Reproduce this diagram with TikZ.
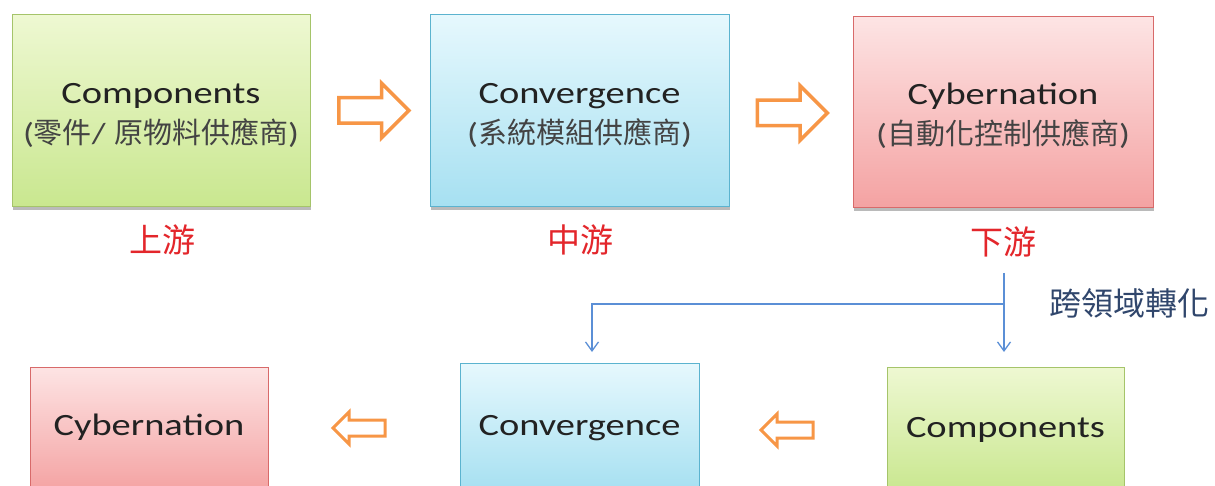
\documentclass[tikz,border=0pt]{standalone}
\usepackage{fontspec}
\setmainfont{Carlito}[FakeStretch=1.24]
\newfontfamily\cjk{Noto Sans CJK TC}
\usetikzlibrary{shapes.arrows,shadows,arrows.meta}
\definecolor{gtop}{HTML}{EEF8D2}
\definecolor{gbot}{HTML}{C9E78F}
\definecolor{gline}{HTML}{A5C46A}
\definecolor{btop}{HTML}{E6F8FD}
\definecolor{bbot}{HTML}{A6E0F1}
\definecolor{bline}{HTML}{5BB3CF}
\definecolor{rtop}{HTML}{FDE4E4}
\definecolor{rbot}{HTML}{F4A2A2}
\definecolor{rline}{HTML}{D86A6A}
\definecolor{orangearr}{HTML}{F79646}
\definecolor{redlabel}{HTML}{E3262B}
\definecolor{bluelink}{HTML}{5B8FD6}
\definecolor{bluetext}{HTML}{30466C}
\definecolor{boxtext}{HTML}{222222}
\begin{document}
\begin{tikzpicture}[x=1pt,y=-1pt,
  boxbase/.style={rectangle, line width=1pt, inner sep=0pt,
    drop shadow={shadow xshift=1pt, shadow yshift=-3pt, fill=black!60, opacity=0.45}},
  gbox/.style={boxbase, draw=gline, top color=gtop, bottom color=gbot},
  bbox/.style={boxbase, draw=bline, top color=btop, bottom color=bbot},
  rbox/.style={boxbase, draw=rline, top color=rtop, bottom color=rbot},
  maintext/.style={inner sep=0pt, text=boxtext, font=\fontsize{31}{31}\selectfont},
  subtext/.style={inner sep=0pt, text=boxtext!85, font=\fontsize{29}{29}\selectfont},
  stagelabel/.style={inner sep=0pt, text=redlabel, font=\cjk\fontsize{33}{33}\selectfont},
  bigarrow/.style={single arrow, draw=orangearr, fill=white, line width=3.5pt,
    inner sep=0pt, inner ysep=11pt, single arrow head extend=14.5pt, minimum height=70pt},
  smallarrow/.style={single arrow, draw=orangearr, fill=white, line width=3pt,
    inner sep=0pt, inner ysep=6.5pt, single arrow head extend=8pt, minimum height=52pt,
    shape border rotate=180},
  link/.style={draw=bluelink, line width=1.3pt},
  linkarrow/.style={link, -{Straight Barb[length=9pt,width=13pt,line width=1.3pt]}}
]
\useasboundingbox (0,0) rectangle (1215,486);
\clip (0,0) rectangle (1215,486);

% top row boxes
\node[gbox, minimum width=298pt, minimum height=192pt] (b1) at (161,111) {};
\node[bbox, minimum width=299pt, minimum height=192pt] (b2) at (579.5,111) {};
\node[rbox, minimum width=300pt, minimum height=191pt] (b3) at (1003,112.5) {};

\node[maintext, anchor=base] (b1a) at (161,104) {Components};
\node[subtext, anchor=base] (b1b) at (161,144) {({\cjk 零件}/ {\cjk 原物料供應商})};
\node[maintext, anchor=base] (b2a) at (579.5,104) {Convergence};
\node[subtext, anchor=base] (b2b) at (579.5,144) {({\cjk 系統模組供應商})};
\node[maintext, anchor=base] (b3a) at (1003,105) {Cybernation};
\node[subtext, anchor=base] (b3b) at (1003,145) {({\cjk 自動化控制供應商})};

% stage labels
\node[stagelabel] (up) at (162,240) {上游};
\node[stagelabel] (mid) at (580,240) {中游};
\node[stagelabel] (down) at (1003,242) {下游};

% top arrows
\node[bigarrow] (a1) at (367.5,110.5) {};
\node[bigarrow] (a2) at (786,113) {};

% bottom row boxes
\node[rbox, minimum width=238pt, minimum height=125pt] (c1) at (149,429.5) {};
\node[bbox, minimum width=239pt, minimum height=129pt] (c2) at (579.5,427.5) {};
\node[gbox, minimum width=237pt, minimum height=125pt] (c3) at (1005.5,429.5) {};

\node[maintext, anchor=base] (c1a) at (149,435) {Cybernation};
\node[maintext, anchor=base] (c2a) at (579.5,435) {Convergence};
\node[maintext, anchor=base] (c3a) at (1005.5,437) {Components};

% bottom arrows
\node[smallarrow] (a3) at (363,428) {};
\node[smallarrow] (a4) at (791,430) {};

% cross-domain link
\coordinate (src) at (1004,273);
\coordinate (split) at (1004,304);
\coordinate (t3) at (1004,352);
\coordinate (t2) at (592,352);
\draw[linkarrow] (src) -- (t3);
\draw[linkarrow] (split) -- (split -| t2) -- (t2);
\node[inner sep=0pt, text=bluetext, font=\cjk\fontsize{32}{32}\selectfont] (cross) at (1129,303) {跨領域轉化};
\end{tikzpicture}
\end{document}
